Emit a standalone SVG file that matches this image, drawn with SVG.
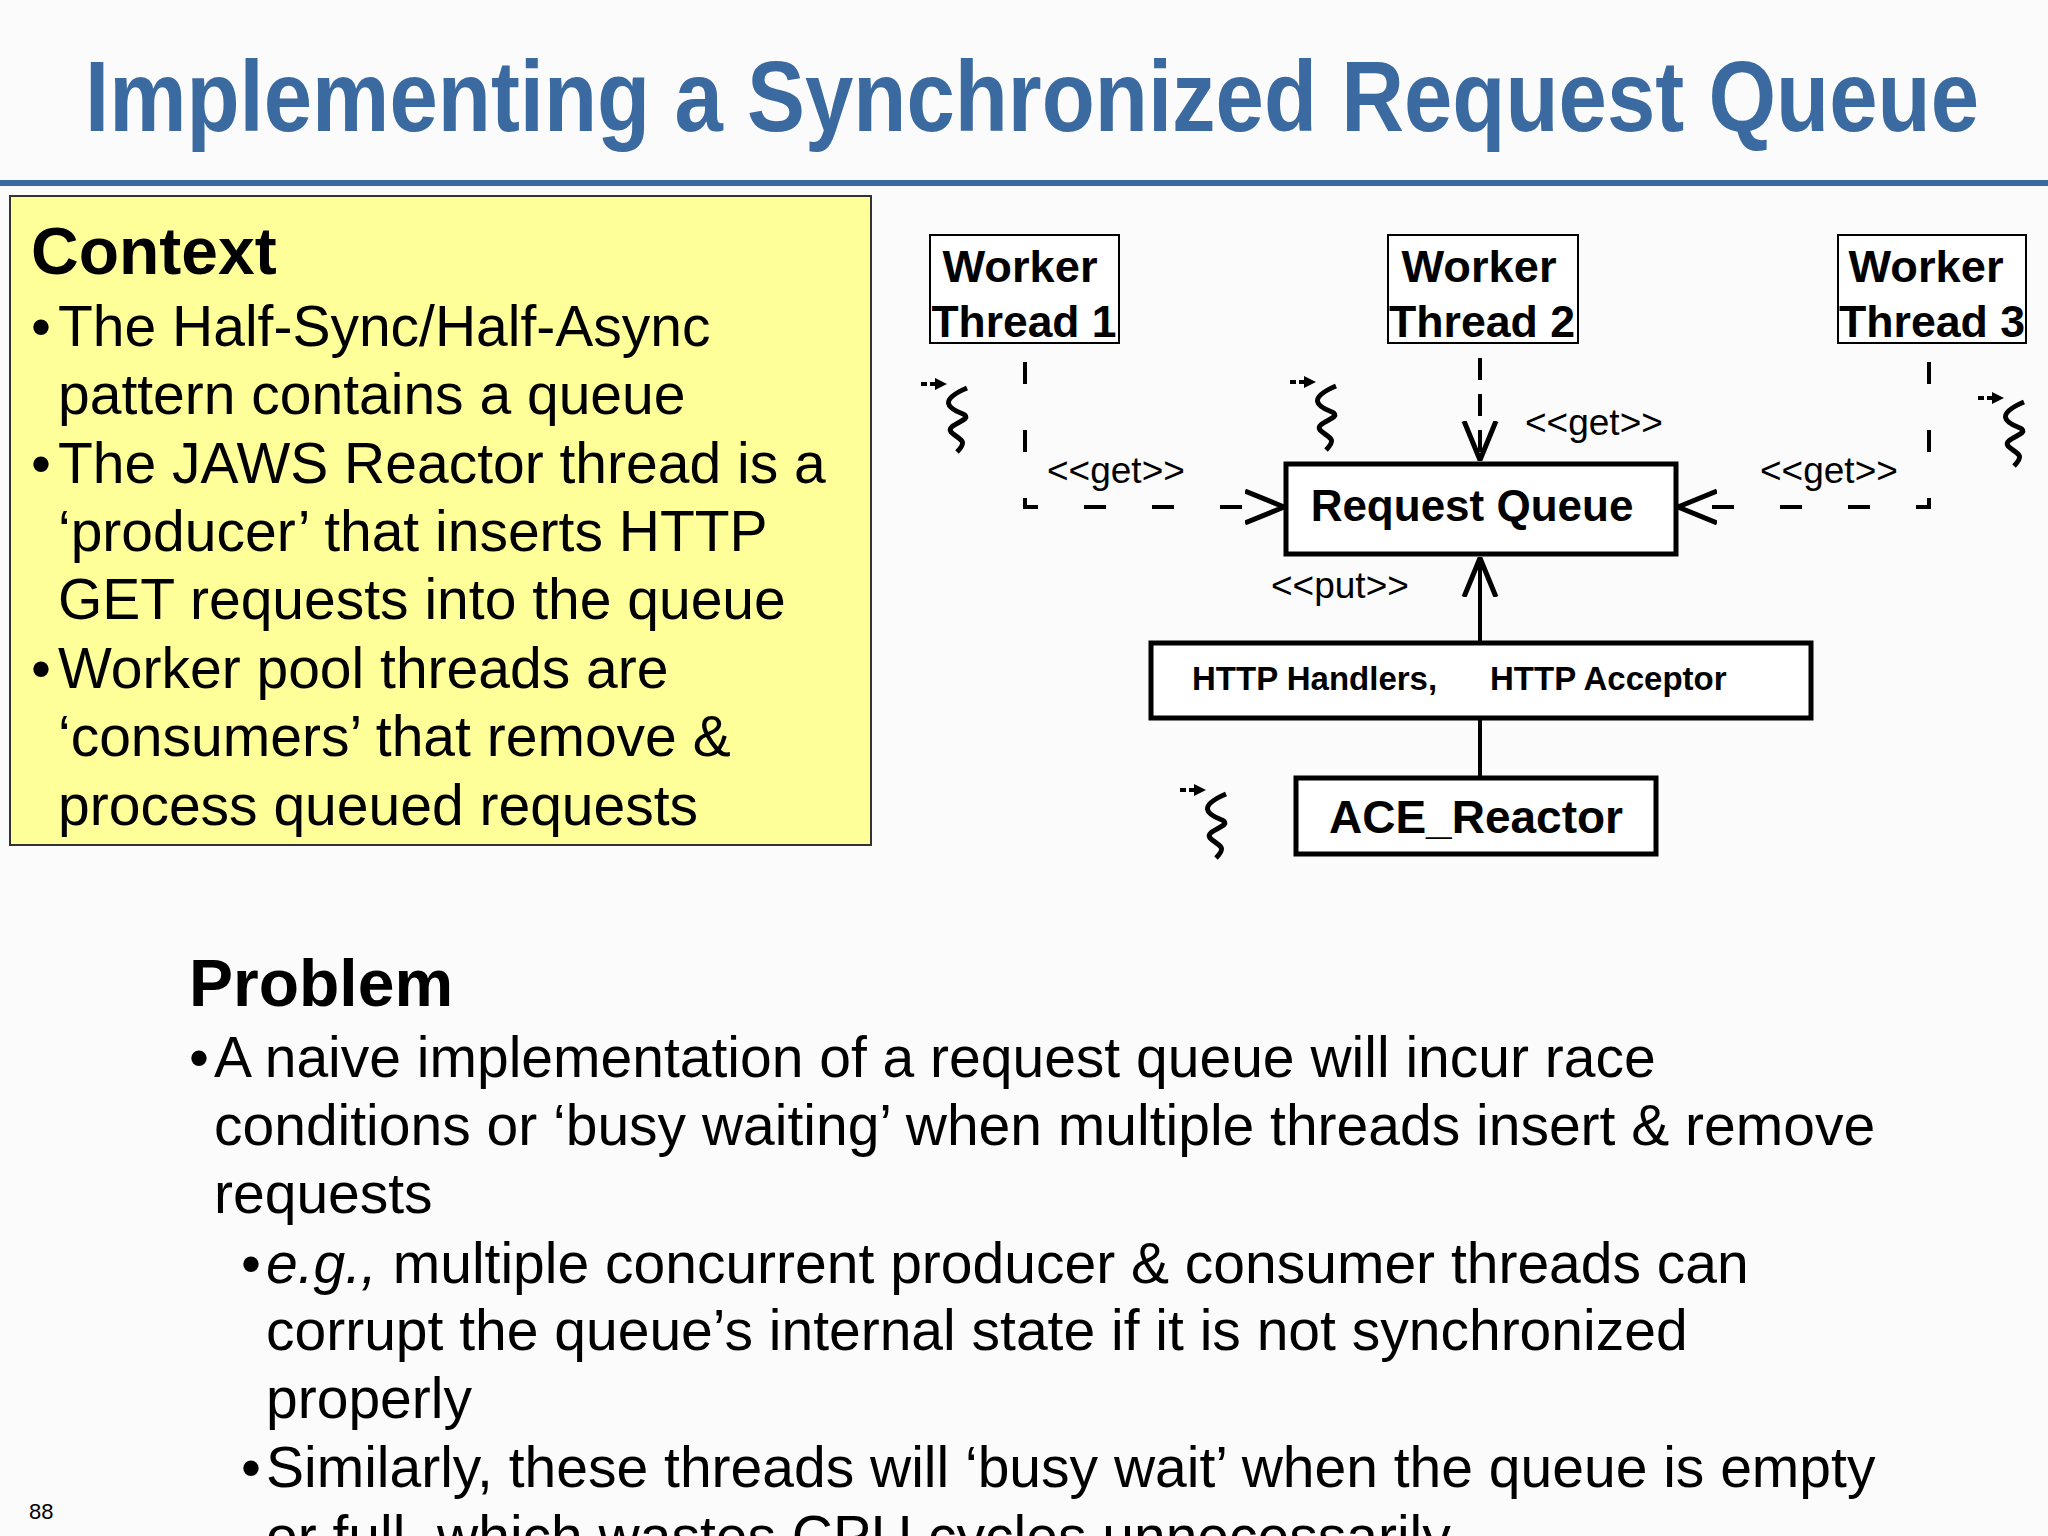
<svg xmlns="http://www.w3.org/2000/svg" width="2048" height="1536" viewBox="0 0 2048 1536">
<style>
.t{font-family:"Liberation Sans",Arial,sans-serif;fill:#000}
.b{font-weight:bold}
.box{fill:#fff;stroke:#000}
.ln{stroke:#000;fill:none}
</style>
<defs>
<g id="thr">
<path d="M0,8 h6 M9,8 h6" stroke="#000" stroke-width="4"/>
<path d="M14,2 L26,8 L14,14 Z" fill="#000"/>
<path d="M46,12 C18,24 26,32 42,38 C54,44 24,48 30,56 C38,64 48,64 36,76" stroke="#000" stroke-width="5" fill="none"/>
</g>
<marker id="ob" viewBox="0 0 40 40" refX="39" refY="20" markerWidth="40" markerHeight="40" markerUnits="userSpaceOnUse" orient="auto"><path d="M0,4 L39,20 L0,36" fill="none" stroke="#000" stroke-width="5"/></marker>
</defs>
<rect width="2048" height="1536" fill="#fbfbfb"/>
<text x="85" y="131" class="t b" font-size="100" style="fill:#3b6aa0" textLength="1894" lengthAdjust="spacingAndGlyphs">Implementing a Synchronized Request Queue</text>
<rect x="0" y="180" width="2048" height="6" fill="#3b6aa0"/>
<g id="context">
<rect x="10" y="196" width="861" height="649" fill="#ffff99" stroke="#333" stroke-width="2"/>
<text x="31" y="274" class="t b" font-size="66">Context</text>
<g class="t" font-size="57">
<text x="31" y="346">•</text><text x="58" y="346">The Half-Sync/Half-Async</text>
<text x="58" y="414">pattern contains a queue</text>
<text x="31" y="483">•</text><text x="58" y="483">The JAWS Reactor thread is a</text>
<text x="58" y="551">‘producer’ that inserts HTTP</text>
<text x="58" y="619">GET requests into the queue</text>
<text x="31" y="688">•</text><text x="58" y="688">Worker pool threads are</text>
<text x="58" y="756">‘consumers’ that remove &amp;</text>
<text x="58" y="825">process queued requests</text>
</g>
</g>
<g id="wt1"><rect x="930" y="235" width="189" height="108" class="box" stroke-width="2"/>
<text x="1020" y="282" class="t b" font-size="44" text-anchor="middle" textLength="155" lengthAdjust="spacingAndGlyphs">Worker</text>
<text x="1024" y="337" class="t b" font-size="44" text-anchor="middle" textLength="185" lengthAdjust="spacingAndGlyphs">Thread 1</text></g>
<g id="wt2"><rect x="1388" y="235" width="190" height="108" class="box" stroke-width="2"/>
<text x="1479" y="282" class="t b" font-size="44" text-anchor="middle" textLength="155" lengthAdjust="spacingAndGlyphs">Worker</text>
<text x="1482" y="337" class="t b" font-size="44" text-anchor="middle" textLength="186" lengthAdjust="spacingAndGlyphs">Thread 2</text></g>
<g id="wt3"><rect x="1838" y="235" width="188" height="108" class="box" stroke-width="2"/>
<text x="1926" y="282" class="t b" font-size="44" text-anchor="middle" textLength="155" lengthAdjust="spacingAndGlyphs">Worker</text>
<text x="1932" y="337" class="t b" font-size="44" text-anchor="middle" textLength="186" lengthAdjust="spacingAndGlyphs">Thread 3</text></g>
<g id="rq"><rect x="1286" y="464" width="390" height="90" class="box" stroke-width="5"/>
<text x="1472" y="521" class="t b" font-size="44" text-anchor="middle">Request Queue</text></g>
<g id="http"><rect x="1151" y="643" width="660" height="75" class="box" stroke-width="5"/>
<text x="1192" y="690" class="t b" font-size="33">HTTP Handlers,</text>
<text x="1490" y="690" class="t b" font-size="33">HTTP Acceptor</text></g>
<g id="ace"><rect x="1296" y="778" width="360" height="76" class="box" stroke-width="5"/>
<text x="1476" y="833" class="t b" font-size="46" text-anchor="middle">ACE_Reactor</text></g>
<g id="icons">
<use href="#thr" x="921" y="376"/>
<use href="#thr" x="1290" y="374"/>
<use href="#thr" x="1978" y="390"/>
<use href="#thr" x="1180" y="782"/>
</g>
<g id="connectors">
<path d="M1480,358 V460" class="ln" stroke-width="4" stroke-dasharray="22,14" marker-end="url(#ob)"/>
<path d="M1025,362 V507 H1284" class="ln" stroke-width="4" stroke-dasharray="22,46" marker-end="url(#ob)"/>
<path d="M1929,362 V507 H1678" class="ln" stroke-width="4" stroke-dasharray="22,46" marker-end="url(#ob)"/>
<path d="M1480,643 V558" class="ln" stroke-width="4" marker-end="url(#ob)"/>
<path d="M1480,718 V778" class="ln" stroke-width="4"/>
</g>
<g class="t" font-size="37">
<text x="1047" y="483">&lt;&lt;get&gt;&gt;</text>
<text x="1525" y="435">&lt;&lt;get&gt;&gt;</text>
<text x="1760" y="483">&lt;&lt;get&gt;&gt;</text>
<text x="1271" y="598">&lt;&lt;put&gt;&gt;</text>
</g>
<g id="problem">
<text x="189" y="1006" class="t b" font-size="66">Problem</text>
<g class="t" font-size="57">
<text x="189" y="1077">•</text><text x="214" y="1077">A naive implementation of a request queue will incur race</text>
<text x="214" y="1145">conditions or ‘busy waiting’ when multiple threads insert &amp; remove</text>
<text x="214" y="1213">requests</text>
<text x="241" y="1283">•</text><text x="266" y="1283"><tspan font-style="italic">e.g.,</tspan> multiple concurrent producer &amp; consumer threads can</text>
<text x="266" y="1350">corrupt the queue’s internal state if it is not synchronized</text>
<text x="266" y="1418">properly</text>
<text x="241" y="1487">•</text><text x="266" y="1487">Similarly, these threads will ‘busy wait’ when the queue is empty</text>
<text x="266" y="1556">or full, which wastes CPU cycles unnecessarily</text>
</g>
</g>
<text x="29" y="1519" class="t" font-size="22">88</text>
</svg>
